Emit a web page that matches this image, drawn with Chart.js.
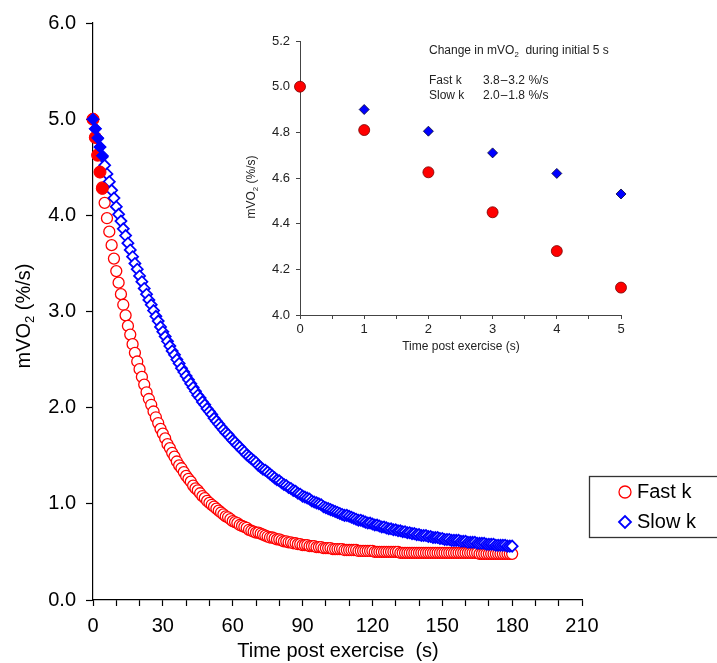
<!DOCTYPE html>
<html>
<head>
<meta charset="utf-8">
<script src="https://cdn.jsdelivr.net/npm/chart.js@4/dist/chart.umd.min.js"></script>
<style>
  html, body { margin: 0; padding: 0; background: #fff; }
  #wrap { position: relative; width: 717px; height: 663px; }
  #mainChart { position: absolute; left: 0; top: 0; }
  #insetChart { position: absolute; left: 230px; top: 20px; }
</style>
</head>
<body>
<div id="wrap">
  <canvas id="mainChart" width="717" height="663"></canvas>
  <canvas id="insetChart" width="420" height="345"></canvas>
</div>
<script>
// ===== Data =====
// main panel: one value per second, 0 .. 180 s
const STEP_S = 1;
const fastK = [
  5.00, 4.81, 4.63, 4.45, 4.29, 4.13, 3.97, 3.83, 3.69, 3.55,
  3.42, 3.30, 3.18, 3.07, 2.96, 2.85, 2.76, 2.66, 2.57, 2.48,
  2.40, 2.32, 2.24, 2.16, 2.09, 2.03, 1.96, 1.90, 1.84, 1.78,
  1.73, 1.68, 1.62, 1.58, 1.53, 1.49, 1.44, 1.40, 1.37, 1.33,
  1.29, 1.26, 1.23, 1.19, 1.16, 1.14, 1.11, 1.08, 1.06, 1.03,
  1.01, 0.99, 0.97, 0.95, 0.93, 0.91, 0.89, 0.87, 0.86, 0.84,
  0.82, 0.81, 0.80, 0.78, 0.77, 0.76, 0.75, 0.73, 0.72, 0.71,
  0.70, 0.70, 0.69, 0.68, 0.67, 0.66, 0.65, 0.65, 0.64, 0.63,
  0.63, 0.62, 0.61, 0.61, 0.60, 0.60, 0.59, 0.59, 0.58, 0.58,
  0.57, 0.57, 0.57, 0.56, 0.56, 0.56, 0.55, 0.55, 0.55, 0.54,
  0.54, 0.54, 0.54, 0.53, 0.53, 0.53, 0.53, 0.53, 0.52, 0.52,
  0.52, 0.52, 0.52, 0.52, 0.51, 0.51, 0.51, 0.51, 0.51, 0.51,
  0.51, 0.50, 0.50, 0.50, 0.50, 0.50, 0.50, 0.50, 0.50, 0.50,
  0.50, 0.50, 0.49, 0.49, 0.49, 0.49, 0.49, 0.49, 0.49, 0.49,
  0.49, 0.49, 0.49, 0.49, 0.49, 0.49, 0.49, 0.49, 0.49, 0.49,
  0.49, 0.49, 0.49, 0.49, 0.49, 0.49, 0.49, 0.49, 0.49, 0.49,
  0.49, 0.49, 0.49, 0.49, 0.49, 0.49, 0.48, 0.48, 0.48, 0.48,
  0.48, 0.48, 0.48, 0.48, 0.48, 0.48, 0.48, 0.48, 0.48, 0.48,
  0.48
];
const slowK = [
  5.00, 4.90, 4.80, 4.71, 4.61, 4.52, 4.43, 4.35, 4.26, 4.18,
  4.09, 4.01, 3.94, 3.86, 3.79, 3.71, 3.64, 3.57, 3.50, 3.44,
  3.37, 3.31, 3.24, 3.18, 3.12, 3.07, 3.01, 2.95, 2.90, 2.84,
  2.79, 2.74, 2.69, 2.64, 2.59, 2.55, 2.50, 2.46, 2.41, 2.37,
  2.33, 2.29, 2.25, 2.21, 2.17, 2.13, 2.10, 2.06, 2.03, 1.99,
  1.96, 1.93, 1.89, 1.86, 1.83, 1.80, 1.77, 1.74, 1.72, 1.69,
  1.66, 1.64, 1.61, 1.59, 1.56, 1.54, 1.51, 1.49, 1.47, 1.45,
  1.43, 1.40, 1.38, 1.36, 1.35, 1.33, 1.31, 1.29, 1.27, 1.25,
  1.24, 1.22, 1.20, 1.19, 1.17, 1.16, 1.14, 1.13, 1.11, 1.10,
  1.08, 1.07, 1.06, 1.05, 1.03, 1.02, 1.01, 1.00, 0.99, 0.97,
  0.96, 0.95, 0.94, 0.93, 0.92, 0.91, 0.90, 0.89, 0.88, 0.88,
  0.87, 0.86, 0.85, 0.84, 0.83, 0.83, 0.82, 0.81, 0.80, 0.80,
  0.79, 0.78, 0.78, 0.77, 0.76, 0.76, 0.75, 0.74, 0.74, 0.73,
  0.73, 0.72, 0.72, 0.71, 0.71, 0.70, 0.70, 0.69, 0.69, 0.68,
  0.68, 0.67, 0.67, 0.67, 0.66, 0.66, 0.65, 0.65, 0.65, 0.64,
  0.64, 0.63, 0.63, 0.63, 0.62, 0.62, 0.62, 0.62, 0.61, 0.61,
  0.61, 0.60, 0.60, 0.60, 0.60, 0.59, 0.59, 0.59, 0.59, 0.58,
  0.58, 0.58, 0.58, 0.57, 0.57, 0.57, 0.57, 0.57, 0.56, 0.56,
  0.56
];

// inset: first 5 s
const insetTime = [0, 1, 2, 3, 4, 5];
const insetFast = [5.00, 4.81, 4.625, 4.45, 4.28, 4.12];
const insetSlow = [5.00, 4.90, 4.805, 4.71, 4.62, 4.53];
const FILLED_N = 5; // first points drawn filled in main panel

const mainXTicks = [0, 30, 60, 90, 120, 150, 180, 210];
const seriesNames = ["Fast k", "Slow k"];
const noteLines = [
  ["Fast k", "3.8\u200A\u2013\u200A3.2 %/s"],
  ["Slow k", "2.0\u200A\u2013\u200A1.8 %/s"]
];

const RED = "#ff0000";
const BLUE = "#0000ff";
const FONT = 'Arial, "Liberation Sans", sans-serif';

Chart.defaults.font.family = FONT;
Chart.defaults.color = "#000";

const toXY = (arr, times) => arr.map((v, i) => ({ x: times ? times[i] : i * STEP_S, y: v }));

// ===== text helpers =====
// "_" toggles subscript: "mVO_2_ (%/s)"
function drawRich(ctx, str, x, y, size, align, rotate, color) {
  const parts = str.split("_");
  ctx.save();
  ctx.translate(x, y);
  if (rotate) ctx.rotate(-Math.PI / 2);
  ctx.fillStyle = color || "#000";
  ctx.textBaseline = "middle";
  ctx.textAlign = "left";
  let w = 0;
  parts.forEach((p, i) => {
    ctx.font = (i % 2 ? size * 0.65 : size) + "px " + FONT;
    w += ctx.measureText(p).width;
  });
  let cx = align === "center" ? -w / 2 : 0;
  parts.forEach((p, i) => {
    const sub = i % 2 === 1;
    ctx.font = (sub ? size * 0.65 : size) + "px " + FONT;
    ctx.fillText(p, cx, sub ? size * 0.3 : 0);
    cx += ctx.measureText(p).width;
  });
  ctx.restore();
}

// ===== Main chart =====
const mainText = {
  id: "mainText",
  afterDraw(chart) {
    const ctx = chart.ctx;
    drawRich(ctx, "mVO_2_ (%/s)", 24, 316, 20, "center", true);
    drawRich(ctx, "Time post exercise  (s)", 338, 651, 20, "center");

    // legend box
    ctx.save();
    ctx.strokeStyle = "#333";
    ctx.lineWidth = 1.3;
    ctx.strokeRect(589.5, 476.5, 200, 61);
    ctx.fillStyle = "#fff";
    ctx.strokeStyle = RED;
    ctx.lineWidth = 1.3;
    ctx.beginPath();
    ctx.arc(625, 492, 6, 0, Math.PI * 2);
    ctx.fill(); ctx.stroke();
    ctx.strokeStyle = BLUE;
    ctx.lineWidth = 1.8;
    ctx.beginPath();
    ctx.moveTo(619, 522); ctx.lineTo(625, 516); ctx.lineTo(631, 522); ctx.lineTo(625, 528);
    ctx.closePath();
    ctx.fill(); ctx.stroke();
    ctx.restore();
    drawRich(ctx, seriesNames[0], 637, 492, 20, "left");
    drawRich(ctx, seriesNames[1], 637, 522, 20, "left");
  }
};

new Chart(document.getElementById("mainChart"), {
  type: "scatter",
  data: {
    datasets: [
      {
        label: seriesNames[1] + " (first s)",
        data: toXY(insetSlow.slice(0, FILLED_N), insetTime),
        pointStyle: "rectRot", pointRadius: 6,
        backgroundColor: BLUE, borderColor: BLUE, borderWidth: 1,
        clip: false, order: 1
      },
      {
        label: seriesNames[0] + " (first s)",
        data: toXY(insetFast.slice(0, FILLED_N), insetTime),
        pointStyle: "circle", pointRadius: 6,
        backgroundColor: RED, borderColor: RED, borderWidth: 1,
        clip: false, order: 2
      },
      {
        label: seriesNames[1],
        data: toXY(slowK),
        pointStyle: "rectRot", pointRadius: 5.5,
        backgroundColor: "#fff", borderColor: BLUE, borderWidth: 1.8,
        clip: false, order: 3
      },
      {
        label: seriesNames[0],
        data: toXY(fastK),
        pointStyle: "circle", pointRadius: 5.5,
        backgroundColor: "#fff", borderColor: RED, borderWidth: 1.3,
        clip: false, order: 4
      }
    ]
  },
  options: {
    responsive: false,
    animation: false,
    devicePixelRatio: 1,
    events: [],
    layout: { padding: { left: 0, top: 23, right: 135, bottom: 0 } },
    plugins: { legend: { display: false }, tooltip: { enabled: false } },
    scales: {
      x: {
        type: "linear", min: 0, max: 210,
        afterFit: s => { s.height = 63; },
        border: { color: "#000", width: 1.2 },
        grid: { drawOnChartArea: false, tickLength: 6, color: "#000", tickWidth: 1.2 },
        ticks: {
          stepSize: 10, autoSkip: false, maxRotation: 0, padding: 8,
          font: { size: 20 }, color: "#000",
          callback: v => (mainXTicks.includes(v) ? String(v) : "")
        }
      },
      y: {
        min: 0, max: 6,
        afterFit: s => { s.width = 93; },
        border: { color: "#000", width: 1.2 },
        grid: { drawOnChartArea: false, tickLength: 7, color: "#000", tickWidth: 1.2 },
        ticks: {
          stepSize: 1, padding: 10,
          font: { size: 20 }, color: "#000",
          callback: v => v.toFixed(1)
        }
      }
    }
  },
  plugins: [mainText]
});

// ===== Inset chart =====
const OX = 230, OY = 20; // inset canvas offset
const insetText = {
  id: "insetText",
  afterDraw(chart) {
    const ctx = chart.ctx;
    drawRich(ctx, "mVO_2_ (%/s)", 252 - OX, 187 - OY, 12, "center", true, "#222");
    drawRich(ctx, "Time post exercise (s)", 461 - OX, 347 - OY, 12, "center", false, "#222");
    drawRich(ctx, "Change in mVO_2_  during initial 5 s", 429 - OX, 51 - OY, 12, "left", false, "#222");
    noteLines.forEach((ln, i) => {
      drawRich(ctx, ln[0], 429 - OX, 81 + i * 14.5 - OY, 12, "left", false, "#222");
      drawRich(ctx, ln[1], 483 - OX, 81 + i * 14.5 - OY, 12, "left", false, "#222");
    });
  }
};

new Chart(document.getElementById("insetChart"), {
  type: "scatter",
  data: {
    datasets: [
      {
        label: seriesNames[0],
        data: toXY(insetFast, insetTime),
        pointStyle: "circle", pointRadius: 5.5,
        backgroundColor: RED, borderColor: "#700", borderWidth: 0.8,
        clip: false, order: 1
      },
      {
        label: seriesNames[1],
        data: toXY(insetSlow, insetTime),
        pointStyle: "rectRot", pointRadius: 5,
        backgroundColor: BLUE, borderColor: "#003", borderWidth: 0.8,
        clip: false, order: 2
      }
    ]
  },
  options: {
    responsive: false,
    animation: false,
    devicePixelRatio: 1,
    events: [],
    layout: { padding: { left: 0, top: 21, right: 29, bottom: 0 } },
    plugins: { legend: { display: false }, tooltip: { enabled: false } },
    scales: {
      x: {
        type: "linear", min: 0, max: 5,
        afterFit: s => { s.height = 50; },
        border: { color: "#444", width: 1 },
        grid: { drawOnChartArea: false, tickLength: 4, color: "#444" },
        ticks: {
          stepSize: 0.5, autoSkip: false, maxRotation: 0, padding: 3,
          font: { size: 13 }, color: "#222",
          callback: v => (Number.isInteger(v) ? String(v) : "")
        }
      },
      y: {
        min: 4.0, max: 5.2,
        afterFit: s => { s.width = 70; },
        border: { color: "#444", width: 1 },
        grid: { drawOnChartArea: false, tickLength: 4, color: "#444" },
        ticks: {
          stepSize: 0.2, padding: 6,
          font: { size: 13 }, color: "#222",
          callback: v => v.toFixed(1)
        }
      }
    }
  },
  plugins: [insetText]
});
</script>
</body>
</html>
